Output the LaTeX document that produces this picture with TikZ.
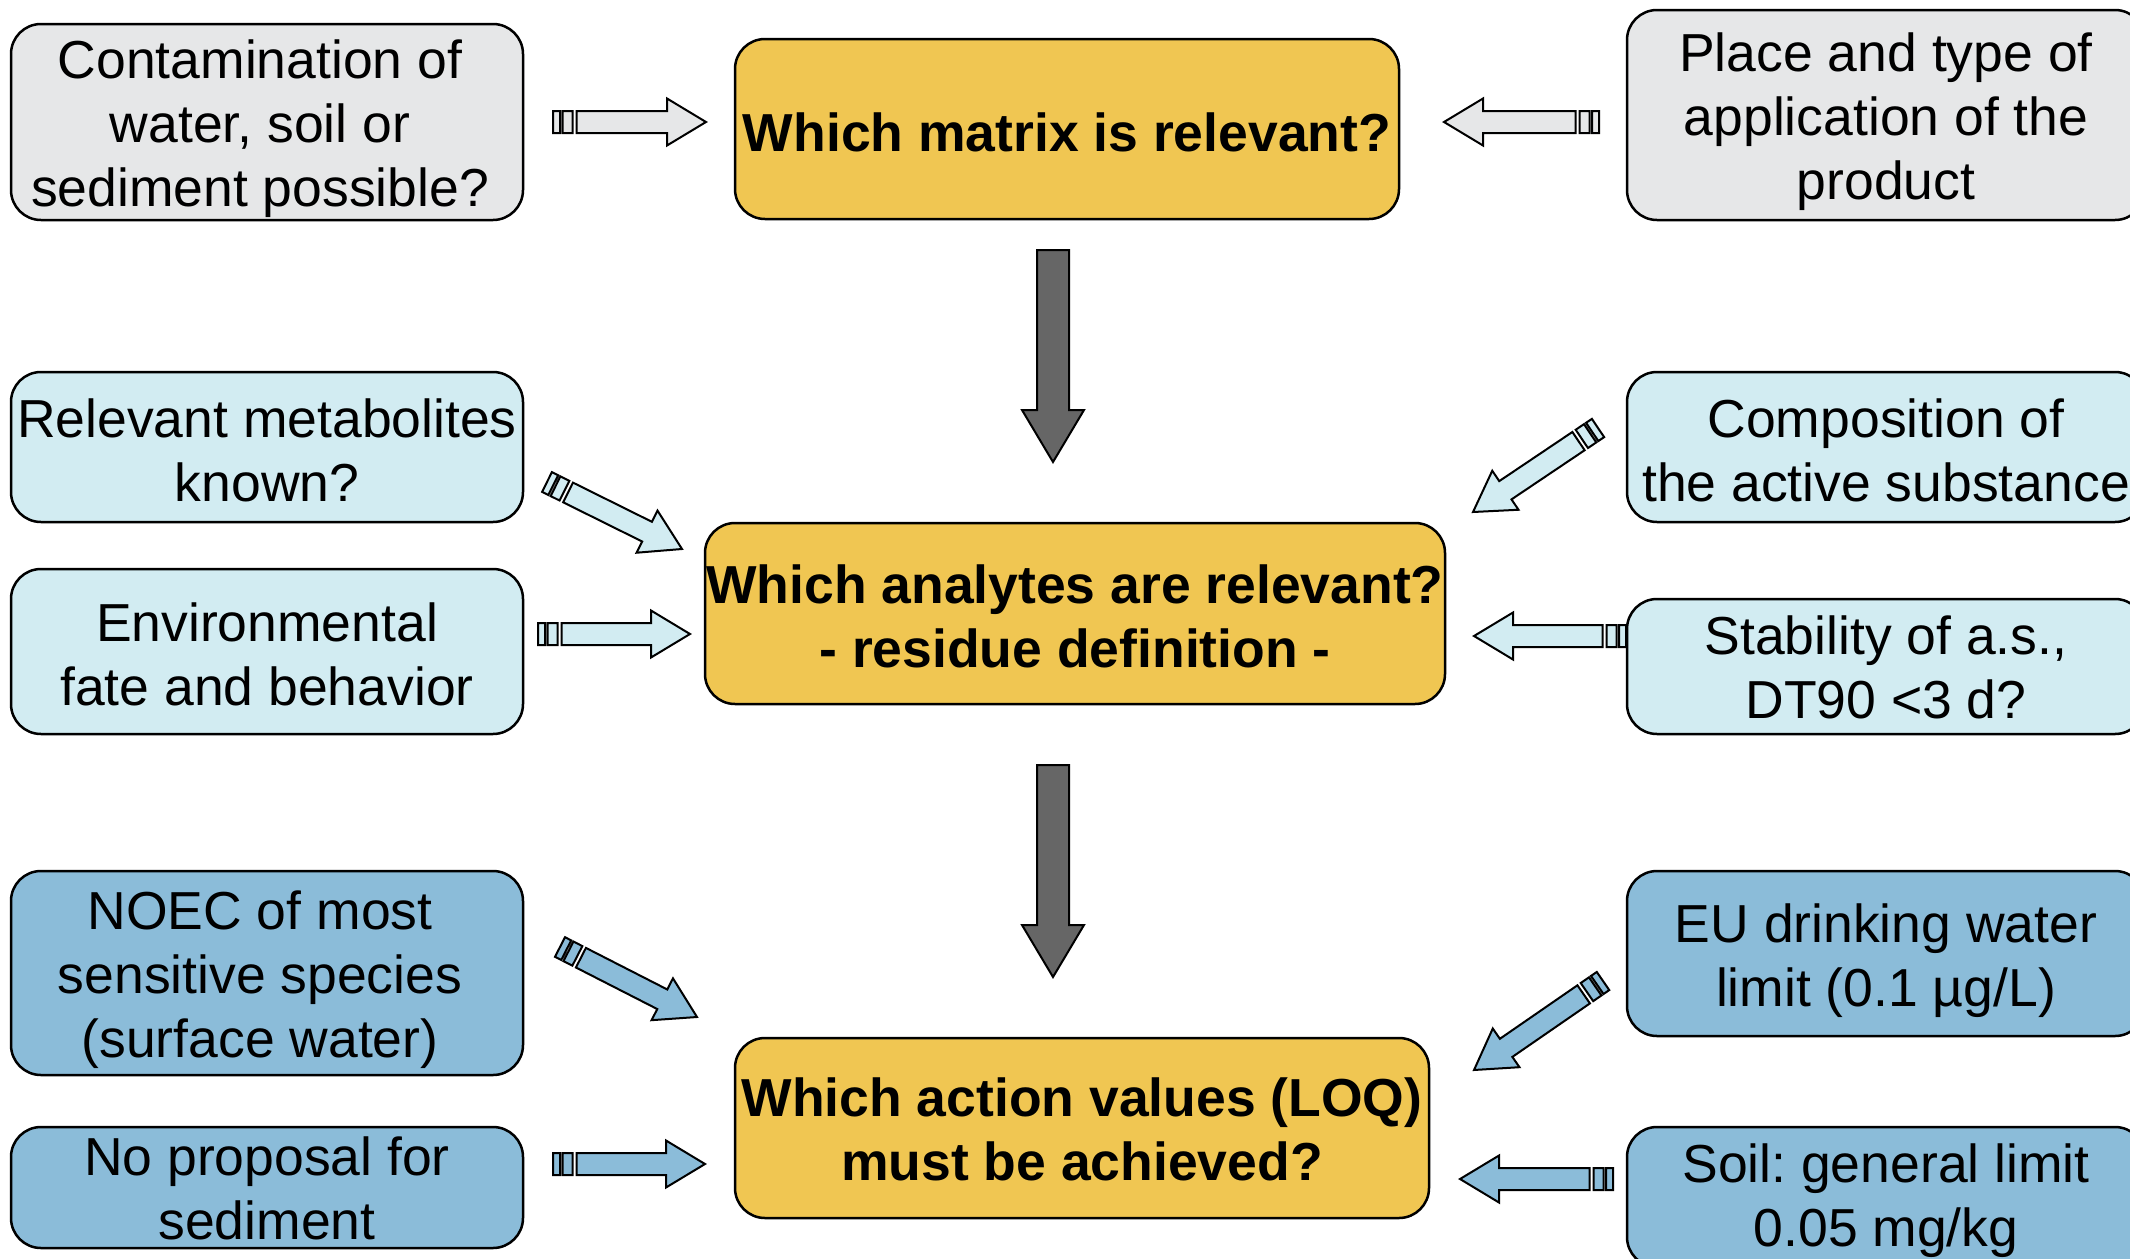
\documentclass[tikz,border=0pt]{standalone}
\usepackage{fontspec}
\setmainfont{Liberation Sans}
\frenchspacing
\usetikzlibrary{calc}

\definecolor{boxgrey}{RGB}{230,231,232}
\definecolor{boxcyan}{RGB}{210,236,242}
\definecolor{boxblue}{RGB}{139,188,217}
\definecolor{boxgold}{RGB}{240,198,82}
\definecolor{flowgrey}{RGB}{102,102,102}

% striped block arrow from coordinate #2 to coordinate #3, filled with #1
\newcommand\stripedarrow[3]{%
  \draw[line width=2pt, fill=#1, line join=miter]
    let \p1 = ($(#3)-(#2)$), \n1 = {veclen(\x1,\y1)}, \n2 = {atan2(\y1,\x1)} in
    [shift={(#2)}, rotate=\n2]
    (0pt,-11pt) rectangle (7pt,11pt)
    (9.5pt,-11pt) rectangle (19.5pt,11pt)
    (23.5pt,-11pt) -- ({\n1-39pt},-11pt) -- ({\n1-39pt},-23.5pt) -- (\n1,0pt)
    -- ({\n1-39pt},23.5pt) -- ({\n1-39pt},11pt) -- (23.5pt,11pt) -- cycle;
}
% plain block arrow from #1 to #2
\newcommand\flowarrow[2]{%
  \draw[line width=2pt, fill=flowgrey, line join=miter]
    let \p1 = ($(#2)-(#1)$), \n1 = {veclen(\x1,\y1)}, \n2 = {atan2(\y1,\x1)} in
    [shift={(#1)}, rotate=\n2]
    (0pt,-16pt) -- ({\n1-52pt},-16pt) -- ({\n1-52pt},-31pt) -- (\n1,0pt)
    -- ({\n1-52pt},31pt) -- ({\n1-52pt},16pt) -- (0pt,16pt) -- cycle;
}

\tikzset{
  infobox/.style={draw, line width=2.5pt, rounded corners=30pt, inner sep=0pt},
  askbox/.style={infobox, fill=boxgold},
  plaintext/.style={inner sep=0pt, align=center, font=\fontsize{53.5}{64}\selectfont},
  boldtext/.style={plaintext, font=\fontsize{53.5}{64}\selectfont\bfseries},
  % text of a box, set at the box centre with a small offset (dx, dy)
  says/.style n args={4}{label={[#1, xshift=#2pt, yshift=-#3pt]center:{#4}}},
}

\begin{document}
\begin{tikzpicture}[x=1pt, y=-1pt]
\useasboundingbox (0,0) rectangle (2130,1258);
\clip (0,0) rectangle (2130,1258);

% central questions
\node[askbox, minimum width=664pt, minimum height=180pt,
  says={boldtext}{0}{3}{Which matrix is relevant?}] (matrix) at (1067,129) {};
\node[askbox, minimum width=740pt, minimum height=181pt,
  says={boldtext}{0}{3}{Which analytes are relevant?\\- residue definition -}]
  (analytes) at (1075,613.5) {};
\node[askbox, minimum width=694pt, minimum height=180pt,
  says={boldtext}{0}{1}{Which action values (LOQ)\\must be achieved?}]
  (action) at (1082,1128) {};

% inputs for the matrix
\node[infobox, fill=boxgrey, minimum width=512pt, minimum height=196pt,
  says={plaintext}{-7}{7}{Contamination of\\water, soil or\\sediment possible?}]
  (contam) at (267,122) {};
\node[infobox, fill=boxgrey, minimum width=518pt, minimum height=210pt,
  says={plaintext}{0}{7}{Place and type of\\application of the\\product}]
  (place) at (1886,115) {};

% inputs for the analytes
\node[infobox, fill=boxcyan, minimum width=512pt, minimum height=150pt,
  says={plaintext}{0}{3}{Relevant metabolites\\known?}] (metab) at (267,447) {};
\node[infobox, fill=boxcyan, minimum width=512pt, minimum height=165pt,
  says={plaintext}{0}{3}{Environmental\\fate and behavior}] (envfate) at (267,651.5) {};
\node[infobox, fill=boxcyan, minimum width=518pt, minimum height=150pt,
  says={plaintext}{0}{3}{Composition of\\the active substance}] (compo) at (1886,447) {};
\node[infobox, fill=boxcyan, minimum width=518pt, minimum height=135pt,
  says={plaintext}{0}{1}{Stability of a.s.,\\DT90 <3 d?}] (stab) at (1886,666.5) {};

% inputs for the action values
\node[infobox, fill=boxblue, minimum width=512pt, minimum height=204pt,
  says={plaintext}{-7}{7}{NOEC of most\\sensitive species\\(surface water)}]
  (noec) at (267,973) {};
\node[infobox, fill=boxblue, minimum width=512pt, minimum height=121pt,
  says={plaintext}{0}{1}{No proposal for\\sediment}] (sedim) at (267,1187.5) {};
\node[infobox, fill=boxblue, minimum width=518pt, minimum height=165pt,
  says={plaintext}{0}{7}{EU drinking water\\limit (0.1 µg/L)}] (drink) at (1886,953.5) {};
\node[infobox, fill=boxblue, minimum width=518pt, minimum height=140pt,
  says={plaintext}{0}{4}{Soil: general limit\\0.05 mg/kg}] (soil) at (1886,1197) {};

% arrow end points
\coordinate (a1s) at (553,122);   \coordinate (a1e) at (706,122);
\coordinate (a2s) at (1599,122);  \coordinate (a2e) at (1444,122);
\coordinate (a3s) at (547,482);   \coordinate (a3e) at (682,549);
\coordinate (a4s) at (538,634);   \coordinate (a4e) at (690,634);
\coordinate (a5s) at (1598,428);  \coordinate (a5e) at (1473,512);
\coordinate (a6s) at (1626,636);  \coordinate (a6e) at (1474,636);
\coordinate (a7s) at (560,947);   \coordinate (a7e) at (697,1017);
\coordinate (a8s) at (553,1164);  \coordinate (a8e) at (705,1164);
\coordinate (a9s) at (1603,981);  \coordinate (a9e) at (1474,1070);
\coordinate (a10s) at (1613,1179); \coordinate (a10e) at (1460,1179);
\coordinate (f1s) at (1053,250);  \coordinate (f1e) at (1053,462);
\coordinate (f2s) at (1053,765);  \coordinate (f2e) at (1053,977);

\stripedarrow{boxgrey}{a1s}{a1e}
\stripedarrow{boxgrey}{a2s}{a2e}
\stripedarrow{boxcyan}{a3s}{a3e}
\stripedarrow{boxcyan}{a4s}{a4e}
\stripedarrow{boxcyan}{a5s}{a5e}
\stripedarrow{boxcyan}{a6s}{a6e}
\stripedarrow{boxblue}{a7s}{a7e}
\stripedarrow{boxblue}{a8s}{a8e}
\stripedarrow{boxblue}{a9s}{a9e}
\stripedarrow{boxblue}{a10s}{a10e}

\flowarrow{f1s}{f1e}
\flowarrow{f2s}{f2e}
\end{tikzpicture}
\end{document}
